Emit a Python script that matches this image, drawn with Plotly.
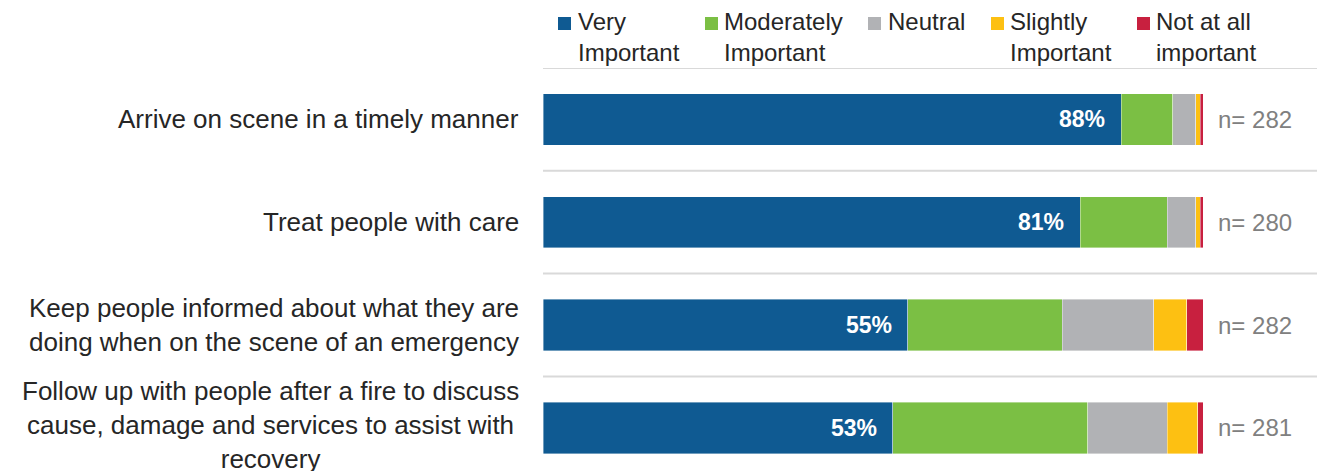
import plotly.graph_objects as go

categories = [
    "Arrive on scene in a timely manner",
    "Treat people with care",
    "Keep people informed about what they are<br>doing when on the scene of an emergency",
    "Follow up with people after a fire to discuss<br>cause, damage and services to assist with<br>recovery",
]
series_names = ["Very<br>Important", "Moderately<br>Important", "Neutral", "Slightly<br>Important", "Not at all<br>important"]
very = [87.6, 81.4, 55.3, 53.0]
moderately = [7.8, 13.2, 23.4, 29.5]
neutral = [3.5, 4.3, 13.8, 12.1]
slightly = [0.7, 0.7, 5.0, 4.6]
not_at_all = [0.4, 0.4, 2.5, 0.8]
very_labels = ["88%", "81%", "55%", "53%"]
n_values = [282, 280, 282, 281]

colors = ["#0F5A92", "#7BBF44", "#B1B2B5", "#FDC012", "#C8203F"]
series = [very, moderately, neutral, slightly, not_at_all]

# layout geometry (screen pixels; the page body adds an 8px offset)
OFF = 8
W, H = 1325 - OFF, 471 - OFF
ML, MT = 543 - OFF, 68 - OFF
PW, PH = W - ML, H - MT
legend_square_px = [558, 705, 868, 991, 1137]
legend_text_px = [576, 722, 886, 1008, 1154]
legend_square_top, legend_square_size = 17, 13
legend_text_top = 6


def px_x(px):
    return (px - OFF - ML) / PW


def px_y(py):
    return (H - (py - OFF)) / PH


ids = list(range(len(categories)))

fig = go.Figure()
for name, vals, col in zip(series_names, series, colors):
    fig.add_trace(go.Bar(
        y=ids, x=vals, name=name.replace("<br>", " "), orientation="h",
        marker=dict(color=col, line=dict(color="rgba(255,255,255,0.5)", width=0.8)),
        width=0.5, hoverinfo="skip", showlegend=False,
    ))

annotations = []
shapes = []
for i, (cat, v, lab, n) in enumerate(zip(categories, very, very_labels, n_values)):
    nlines = cat.count("<br>") + 1
    annotations.append(dict(x=0, xref="paper", y=i, yref="y", text=cat, showarrow=False,
                            xanchor="right", xshift=-22, yshift=3 if nlines > 2 else 0, align="center",
                            font=dict(family="Liberation Sans, Arial", size=26, color="#262626")))
    annotations.append(dict(x=v, xref="x", y=i, yref="y", text="<b>" + lab + "</b>", showarrow=False,
                            xanchor="right", xshift=-14,
                            font=dict(family="Liberation Sans, Arial", size=23, color="white")))
    annotations.append(dict(x=100, xref="x", y=i, yref="y", text="n= " + str(n), showarrow=False,
                            xanchor="left", xshift=13,
                            font=dict(family="Liberation Sans, Arial", size=24, color="#808080")))

# legend (custom, to match the reference's compact layout)
for name, col, sx, tx in zip(series_names, colors, legend_square_px, legend_text_px):
    shapes.append(dict(type="rect", xref="paper", yref="paper",
                       x0=px_x(sx), x1=px_x(sx + legend_square_size),
                       y0=px_y(legend_square_top + legend_square_size), y1=px_y(legend_square_top),
                       fillcolor=col, line=dict(width=0)))
    annotations.append(dict(x=px_x(tx), xref="paper", y=px_y(legend_text_top), yref="paper",
                            text=name, showarrow=False, xanchor="left", yanchor="top", align="left",
                            font=dict(family="Liberation Sans, Arial", size=24, color="#262626")))

for b in [-0.5, 0.5, 1.5, 2.5]:
    shapes.append(dict(type="line", xref="paper", x0=0, x1=1, yref="y", y0=b, y1=b,
                       line=dict(color="#D9D9D9", width=2), layer="below"))

fig.update_layout(
    barmode="stack",
    width=W, height=H,
    margin=dict(l=ML, r=0, t=MT, b=0),
    paper_bgcolor="white", plot_bgcolor="white",
    xaxis=dict(range=[0, 100 * PW / 660], showgrid=False, showticklabels=False, zeroline=False, fixedrange=True),
    yaxis=dict(range=[3.42, -0.5], showgrid=False, showticklabels=False, zeroline=False, fixedrange=True),
    annotations=annotations,
    shapes=shapes,
    font=dict(family="Liberation Sans, Arial"),
    showlegend=False,
)

fig.write_html("out.html")
